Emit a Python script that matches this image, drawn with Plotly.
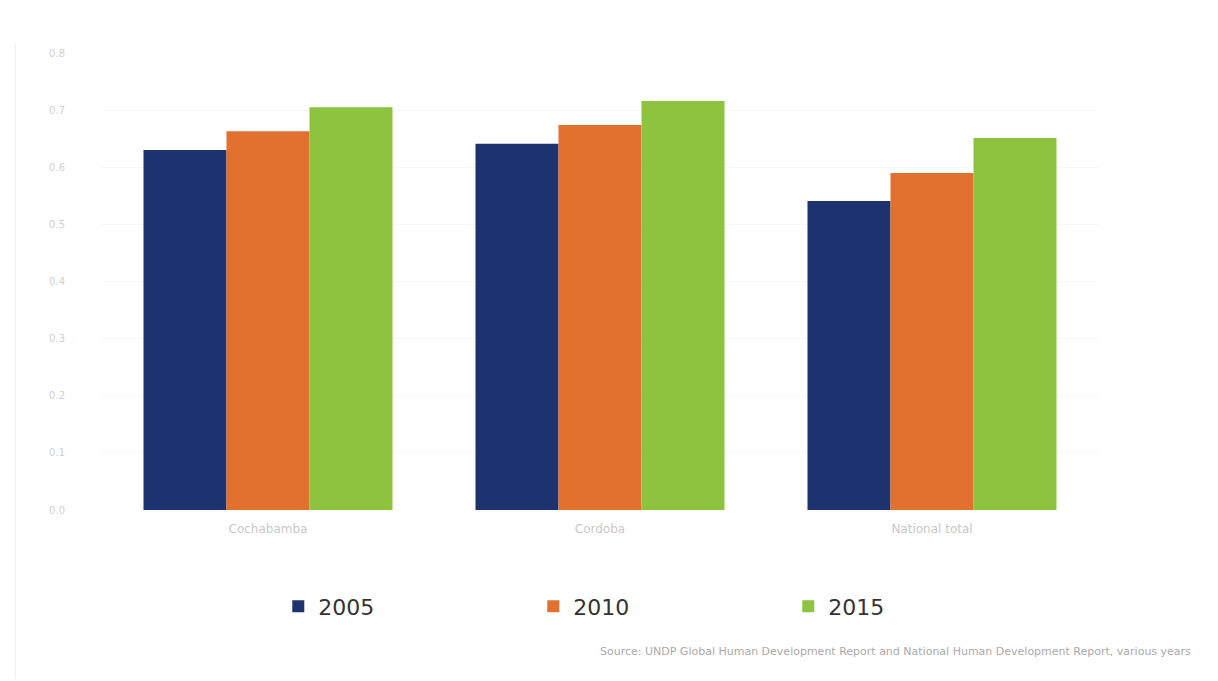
import plotly.graph_objects as go

categories = ["Cochabamba", "Cordoba", "National total"]
years = ["2005", "2010", "2015"]
values_2005 = [0.630, 0.641, 0.541]
values_2010 = [0.663, 0.674, 0.590]
values_2015 = [0.705, 0.716, 0.651]
tick_vals = [0.0, 0.1, 0.2, 0.3, 0.4, 0.5, 0.6, 0.7, 0.8]
tick_text = ["0.0", "0.1", "0.2", "0.3", "0.4", "0.5", "0.6", "0.7", "0.8"]
source_text = "Source: UNDP Global Human Development Report and National Human Development Report, various years"

colors = ["#1d3370", "#e2712f", "#8dc33e"]
series = [values_2005, values_2010, values_2015]

fig = go.Figure()
for name, vals, col in zip(years, series, colors):
    fig.add_trace(go.Bar(x=categories, y=vals, name=name, marker_color=col,
                         marker_line_width=0))

fig.update_layout(
    width=1218, height=681,
    margin=dict(l=94, r=128, t=45, b=179),
    paper_bgcolor="white", plot_bgcolor="white",
    barmode="group", bargap=0.25, bargroupgap=0,
    font=dict(family="DejaVu Sans", color="#444"),
    xaxis=dict(showline=False, ticks="", tickfont=dict(size=12, color="#c8c8c8"),
               ticklabelstandoff=10),
    yaxis=dict(range=[0, 0.8], tickvals=tick_vals, ticktext=tick_text,
               showgrid=True, gridcolor="#f7f7f7", zeroline=False,
               tickfont=dict(size=10, color="#d0d0d0"), ticklabelstandoff=36),
    legend=dict(orientation="h", x=0.177, xanchor="left", y=-0.165, yanchor="top",
                entrywidth=210, entrywidthmode="pixels",
                font=dict(size=22, color="#333", family="DejaVu Sans")),
    annotations=[dict(text=source_text, xref="paper", yref="paper", x=1.095, y=-0.29,
                      xanchor="right", yanchor="top", showarrow=False,
                      font=dict(size=11, color="#aaa"))],
)
fig.add_shape(type="line", xref="paper", yref="paper", x0=-0.087, x1=-0.087, y0=-0.37, y1=1.02,
              line=dict(color="#eeeeee", width=1))

fig.write_html("out.html")
